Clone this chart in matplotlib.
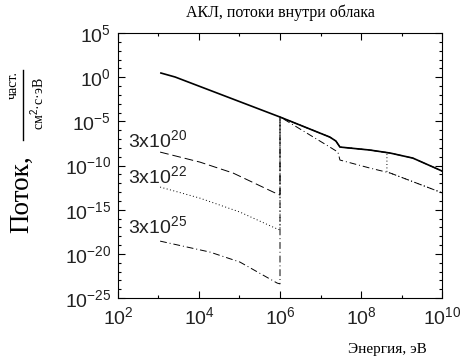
#!/usr/bin/env python3
import numpy as np
import matplotlib
matplotlib.use('Agg')
from matplotlib import pyplot as plt
from matplotlib.ticker import FixedLocator, FuncFormatter, NullFormatter
from matplotlib.lines import Line2D

plt.rcParams['font.family'] = 'Liberation Sans'
plt.rcParams['mathtext.fontset'] = 'custom'
plt.rcParams['mathtext.rm'] = 'Liberation Sans'
plt.rcParams['mathtext.it'] = 'Liberation Sans'

# data (log10 of energy in eV and flux)
# no cloud (solid)
logE_free = [3.06, 3.41, 6.0, 7.23, 7.38, 7.48, 8.22, 8.72, 9.28, 9.95, 10.0]
logF_free = [0.47, 0.02, -4.51, -6.78, -7.23, -7.91, -8.25, -8.59, -9.16, -10.52, -10.63]

# column 3x10^20 (dashed)
logE_20 = [3.04, 4.02, 4.84, 5.83, 6.0, 6.0, 7.23, 7.38, 7.48, 8.22, 8.72, 9.28, 9.95, 10.0]
logF_20 = [-8.48, -9.61, -10.85, -13.0, -13.35, -4.51, -6.78, -7.23, -7.91, -8.25, -8.59, -9.16, -10.52, -10.63]

# column 3x10^22 (dotted)
logE_22 = [3.04, 4.02, 5.01, 5.88, 6.0, 6.0, 7.23, 7.38, 7.48, 8.22, 8.64, 8.64, 8.72, 9.95, 10.0]
logF_22 = [-12.44, -13.69, -15.27, -17.08, -17.3, -4.51, -6.78, -7.23, -7.91, -8.25, -8.54, -10.76, -10.85, -13.0, -13.1]

# column 3x10^25 (dash-dot)
logE_25 = [3.04, 4.27, 5.01, 5.93, 6.0, 6.0, 6.05, 7.23, 7.43, 7.48, 8.22, 8.72, 9.95, 10.0]
logF_25 = [-18.56, -19.8, -20.93, -23.31, -23.4, -4.51, -4.63, -7.91, -8.48, -9.38, -10.29, -10.85, -13.0, -13.1]

column_labels = ['20', '22', '25']
label_logF = [-7.91, -11.99, -17.65]

# plot
fig = plt.figure(figsize=(4.64, 3.64), dpi=100)
ax = fig.add_axes([0.2543, 0.1813, 0.6983, 0.728])

ax.plot(10**np.array(logE_free), 10**np.array(logF_free), 'k-', lw=1.2)
ax.plot(10**np.array(logE_20), 10**np.array(logF_20), 'k', lw=0.7, dashes=(9, 4))
ax.plot(10**np.array(logE_22), 10**np.array(logF_22), 'k', lw=0.7, dashes=(1, 2.5))
ax.plot(10**np.array(logE_25), 10**np.array(logF_25), 'k', lw=0.7, dashes=(7, 3, 1, 3))

ax.set_xscale('log')
ax.set_yscale('log')
ax.set_xlim(1e2, 1e10)
ax.set_ylim(1e-25, 1e5)

ax.xaxis.set_major_locator(FixedLocator(10.0**np.arange(2, 11, 2)))
ax.xaxis.set_minor_locator(FixedLocator(10.0**np.arange(3, 10, 2)))
ax.yaxis.set_major_locator(FixedLocator(10.0**np.arange(-25, 6, 5)))
ax.yaxis.set_minor_locator(FixedLocator(10.0**np.arange(-25, 6, 1)))
fmt = FuncFormatter(lambda v, p: r'$10^{%d}$' % round(np.log10(v)))
ax.xaxis.set_major_formatter(fmt)
ax.yaxis.set_major_formatter(fmt)
ax.xaxis.set_minor_formatter(NullFormatter())
ax.yaxis.set_minor_formatter(NullFormatter())

ax.tick_params(which='both', direction='in', top=True, right=True, width=0.8)
ax.tick_params(which='major', length=5, labelsize=14, labelcolor='#222222')
ax.tick_params(axis='x', which='major', pad=6)
ax.tick_params(axis='y', which='major', pad=5)
ax.tick_params(which='minor', length=2.5)
for s in ax.spines.values():
    s.set_linewidth(0.8)

for lab, lf in zip(column_labels, label_logF):
    ax.text(10**2.25, 10**lf, r'$3\mathrm{x}10^{%s}$' % lab, fontsize=14,
            ha='left', va='baseline', color='#222222')

fig.text(0.6034, 1 - 13 / 364, 'АКЛ, потоки внутри облака', family='Liberation Serif',
         fontsize=11.5, ha='center', va='center')
fig.text(387 / 464, 1 - 350 / 364, 'Энергия, эВ', family='Liberation Serif',
         fontsize=11, ha='center', va='center')
fig.text(22 / 464, 1 - 194 / 364, 'Поток,', family='Liberation Serif',
         fontsize=19.5, rotation=90, ha='center', va='center')
fig.text(13 / 464, 1 - 85 / 364, 'част.', family='Liberation Serif',
         fontsize=10, rotation=90, ha='center', va='center')
fig.text(38 / 464, 1 - 104 / 364, 'см$^2$·с·эВ', family='Liberation Serif',
         fontsize=10, rotation=90, ha='center', va='center')
fig.add_artist(Line2D([23 / 464, 23 / 464], [1 - 140 / 364, 1 - 70 / 364],
                      color='k', lw=1.0, transform=fig.transFigure))

plt.savefig('out.png', dpi=100)
